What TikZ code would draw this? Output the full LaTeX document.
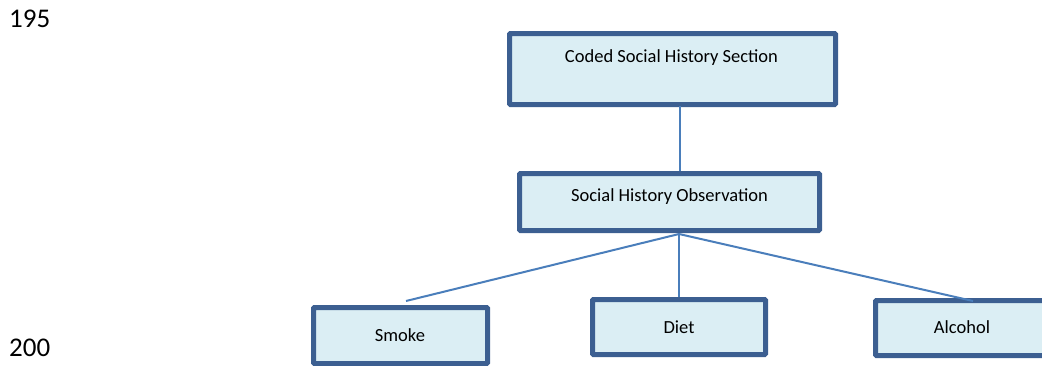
\documentclass[tikz,border=0pt]{standalone}
\usepackage{fontspec}
\setmainfont{Carlito}
\definecolor{boxedge}{HTML}{3C5F91}
\definecolor{boxfill}{HTML}{DBEEF4}
\definecolor{wire}{HTML}{4A7EBB}
\begin{document}
\begin{tikzpicture}[x=1pt,y=-1pt,
  box/.style={draw=boxedge,fill=boxfill,line width=5pt,rounded corners=1pt,inner sep=0pt},
  boxtext/.style={font=\fontsize{18.5}{20}\selectfont,inner sep=0pt},
  wirepath/.style={draw=wire,line width=2pt},
  linenum/.style={font=\fontsize{27}{30}\selectfont,inner sep=0pt,anchor=west}]
\useasboundingbox (0,0) rectangle (1042,365);
\clip (0,0) rectangle (1042,365);

% line numbers
\node[linenum] (n195) at (9,19) {195};
\node[linenum] (n200) at (9,348) {200};

% boxes
\node[box,minimum width=326pt,minimum height=71pt] (sect) at (672.5,69) {};
\node[boxtext] (secttext) at (671.5,58) {Coded Social History Section};

\node[box,minimum width=300pt,minimum height=57pt] (obs) at (669.5,202) {};
\node[boxtext] (obstext) at (669.5,197) {Social History Observation};

\node[box,minimum width=174pt,minimum height=56pt] (smoke) at (400.5,335.5) {};
\node[boxtext] (smoketext) at (400,335) {Smoke};

\node[box,minimum width=173pt,minimum height=55pt] (diet) at (679,327) {};
\node[boxtext] (diettext) at (679,327) {Diet};

\node[box,minimum width=173pt,minimum height=55pt] (alcohol) at (962,328) {};
\node[boxtext] (alcoholtext) at (962,327) {Alcohol};

% connector ends
\coordinate (sectfoot) at (680,106);
\coordinate (obshead) at (680,171);
\coordinate (hub) at (679,234);
\coordinate (smokeend) at (406,301);
\coordinate (alcoholend) at (973,301);

% connectors
\draw[wirepath] (sectfoot) -- (obshead);
\draw[wirepath] (hub) -- (smokeend);
\draw[wirepath] (hub) -- (diet.north);
\draw[wirepath] (hub) -- (alcoholend);
\end{tikzpicture}
\end{document}
